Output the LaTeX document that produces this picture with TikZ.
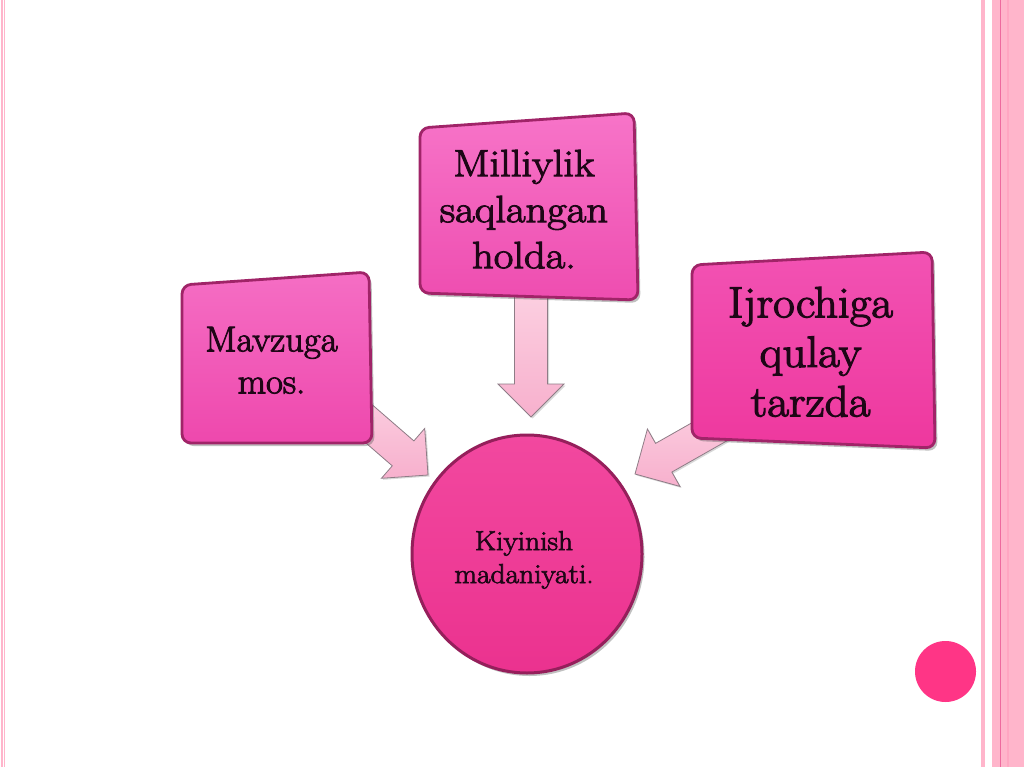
\documentclass[tikz,border=0pt]{standalone}
\usepackage{fontspec}
\newfontfamily\txtfont{Latin Modern Roman}[FakeBold=2.6]
\usetikzlibrary{calc,shapes.geometric,shadows}
\definecolor{stripe}{HTML}{FFB5CB}
\definecolor{stripedark}{HTML}{EE6A9E}
\definecolor{stripemid}{HTML}{FFA6C2}
\definecolor{boxedge}{HTML}{A02468}
\definecolor{txtcol}{HTML}{1E0616}
\definecolor{arrowtop}{HTML}{FCD0E1}
\definecolor{arrowbot}{HTML}{F7B0CD}
\definecolor{arrowedge}{HTML}{8E7C86}
\definecolor{circtop}{HTML}{F2489F}
\definecolor{circbot}{HTML}{EB328F}
\definecolor{circedge}{HTML}{951F5B}
\definecolor{dotcol}{HTML}{FF3586}
\definecolor{lboxtop}{HTML}{F56EC4}
\definecolor{lboxbot}{HTML}{EE48AD}
\definecolor{tboxtop}{HTML}{F774C8}
\definecolor{tboxbot}{HTML}{EE4DB0}
\definecolor{rboxtop}{HTML}{F252B3}
\definecolor{rboxbot}{HTML}{EE389E}
\tikzset{
  x=1pt, y=-1pt,
  boxshape/.style={draw=boxedge, line width=2.8pt, rounded corners=9pt,
    drop shadow={shadow xshift=2.5pt, shadow yshift=-3pt, opacity=0.35, fill=black!70}},
  barrow/.style={draw=arrowedge, line width=0.8pt, top color=arrowtop, bottom color=arrowbot,
    line join=miter,
    drop shadow={shadow xshift=1.5pt, shadow yshift=-1.5pt, opacity=0.25, fill=black!60}},
  boxtext/.style={inner sep=0pt, text=txtcol, align=center},
}
\newcommand\blockarrow[2]{%
  \coordinate (#2-m) at ($(#2)!33pt!(#1)$);
  \draw[barrow] ($(#1)!16.5pt!90:(#2)$) -- ($(#2-m)!16.5pt!90:(#2)$)
    -- ($(#2-m)!33pt!90:(#2)$) -- (#2) -- ($(#2-m)!33pt!-90:(#2)$)
    -- ($(#2-m)!16.5pt!-90:(#2)$) -- ($(#1)!16.5pt!-90:(#2)$) -- cycle;}
\newcommand\stretchtext[4]{\scalebox{#1}[1]{\txtfont\fontsize{#2}{#3}\selectfont\begin{tabular}{@{}c@{}}#4\end{tabular}}}
\begin{document}
\begin{tikzpicture}
\useasboundingbox (0,0) rectangle (1024,767);
\fill[white] (0,0) rectangle (1024,767);
% page decoration
\draw[stripe, line width=1.1pt] (2,0) -- (2,767);
\draw[stripe, line width=1.1pt] (4.8,0) -- (4.8,767);
\fill[stripe] (981,0) rectangle (985,767);
\fill[stripe] (992,0) rectangle (1024,767);
\draw[stripemid, line width=2pt] (1008,0) -- (1008,767);
\draw[stripedark, line width=1pt] (1000,0) -- (1000,767);
\node[circle, fill=dotcol, inner sep=0pt, minimum size=61pt] (dot) at (945.5,671.5) {};

% connector coordinates
\coordinate (la) at (345,403);
\coordinate (lt) at (428,475);
\coordinate (ta) at (531,290);
\coordinate (tt) at (531,417);
\coordinate (ra) at (739,415);
\coordinate (rt) at (635,474);
\blockarrow{la}{lt}
\blockarrow{ta}{tt}
\blockarrow{ra}{rt}

% boxes
\draw[boxshape, top color=lboxtop, bottom color=lboxbot] (182,285) -- (369,272) -- (372,443) -- (182,443) -- cycle;
\draw[boxshape, top color=tboxtop, bottom color=tboxbot] (420,128) -- (634,113) -- (638,300) -- (420,293) -- cycle;
\draw[boxshape, top color=rboxtop, bottom color=rboxbot] (692,265) -- (932,252) -- (935,448) -- (692,438) -- cycle;

\node[boxtext] (lbox) at (271.5,364) {\stretchtext{1.02}{36}{42}{Mavzuga\\mos.}};
\node[boxtext] (tbox) at (524,213) {\stretchtext{1.12}{38}{46}{Milliylik\\saqlangan\\holda.}};
\node[boxtext] (rbox) at (810.5,357) {\stretchtext{1.07}{44}{49.5}{Ijrochiga\\qulay\\tarzda}};

% centre circle
\node[ellipse, draw=circedge, line width=3pt, top color=circtop, bottom color=circbot,
  minimum width=230pt, minimum height=238pt, inner sep=0pt,
  drop shadow={shadow xshift=2.5pt, shadow yshift=-3pt, opacity=0.35, fill=black!70}] (circ) at (527,554) {};
\node[boxtext] (ctext) at (524,560) {\stretchtext{1.07}{27.5}{33}{Kiyinish\\madaniyati.}};
\end{tikzpicture}
\end{document}
